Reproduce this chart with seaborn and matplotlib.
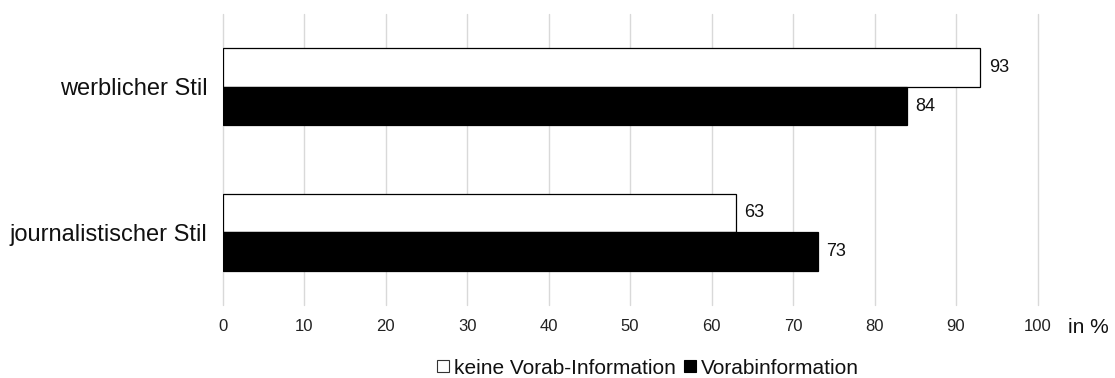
import matplotlib
matplotlib.use("Agg")
import matplotlib.pyplot as plt
from matplotlib.patches import Patch
import seaborn as sns
import pandas as pd

# Share of respondents (in %) by article style and prior information
styles = ["werblicher Stil", "journalistischer Stil"]
groups = ["keine Vorab-Information", "Vorabinformation"]
values_keine = [93, 63]
values_vorab = [84, 73]
x_ticks = [0, 10, 20, 30, 40, 50, 60, 70, 80, 90, 100]

df = pd.DataFrame({
    "Stil": styles * 2,
    "Gruppe": [groups[0]] * len(styles) + [groups[1]] * len(styles),
    "Wert": values_keine + values_vorab,
})

sns.set_theme(style="white")
plt.rcParams["font.family"] = ["Liberation Sans", "DejaVu Sans"]

fig = plt.figure(figsize=(11.15, 3.78), dpi=100)
ax = fig.add_axes([222.7 / 1115, 1 - 305 / 378, (1037.5 - 222.7) / 1115, (305 - 14) / 378])

palette = {groups[0]: "white", groups[1]: "black"}
sns.barplot(data=df, x="Wert", y="Stil", hue="Gruppe", hue_order=groups,
            order=styles, palette=palette, orient="h", width=0.53,
            edgecolor="black", linewidth=0.9, legend=False, ax=ax, zorder=3)

for cont in ax.containers:
    ax.bar_label(cont, fmt="%d", padding=6, fontsize=13, color="#111111")

ax.set_xlim(0, 100)
ax.set_ylim(1.5, -0.5)
ax.set_xticks(x_ticks)
ax.set_xticklabels([str(t) for t in x_ticks], fontsize=12, color="#222222")
ax.tick_params(axis="x", length=0, pad=10)
ax.tick_params(axis="y", length=0, pad=11, labelsize=17, labelcolor="#111111")
ax.set_xlabel("")
ax.set_ylabel("")
ax.xaxis.grid(True, color="#d9d9d9", linewidth=1.0, zorder=0)
ax.yaxis.grid(False)
for gl in ax.get_xgridlines():
    gl.set_clip_on(False)
for side in ["top", "right", "bottom", "left"]:
    ax.spines[side].set_visible(False)

fig.text(1068 / 1115, 1 - 327.5 / 378, "in %", fontsize=15, color="#111111",
         ha="left", va="center")

handles = [Patch(facecolor="white", edgecolor="#333333", linewidth=0.8),
           Patch(facecolor="black", edgecolor="black", linewidth=0.8)]
fig.legend(handles, groups, loc="center", bbox_to_anchor=(648 / 1115, 1 - 368 / 378),
           ncol=2, frameon=False, fontsize=15, handlelength=0.55, handleheight=0.55,
           handletextpad=0.25, columnspacing=0.4, labelcolor="#111111")

fig.savefig("out.png", dpi=100)
